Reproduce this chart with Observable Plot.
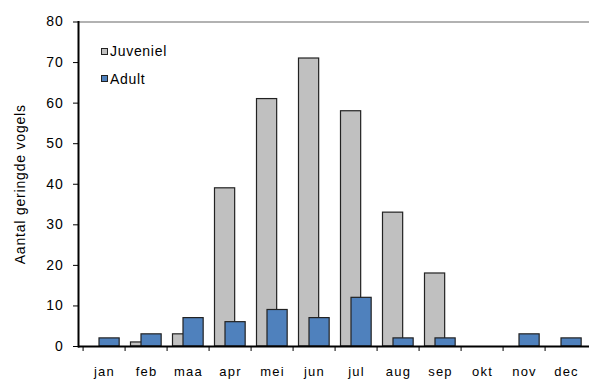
<!DOCTYPE html>
<html>
<head>
<meta charset="utf-8">
<script src="https://cdn.jsdelivr.net/npm/d3@7"></script>
<script src="https://cdn.jsdelivr.net/npm/@observablehq/plot@0.6"></script>
<style>
  html, body { margin: 0; padding: 0; background: white; }
  #wrap { position: relative; width: 589px; height: 379px; font-family: "Liberation Sans", Arial, sans-serif; }
  #wrap svg text { fill: #000; }
  g[aria-label="y-axis tick label"] text { letter-spacing: 0.8px; }
  g[aria-label="x-axis tick label"] text { letter-spacing: 1.2px; }
  g[aria-label="y-axis label"] text { letter-spacing: 0.8px; }
  .leg { position: absolute; left: 101px; display: flex; align-items: center; font-size: 14px; line-height: 16px; letter-spacing: 0.7px; color: #000; }
  .sw { width: 5px; height: 5px; border: 1px solid #222; margin-right: 2px; }
</style>
</head>
<body>
<div id="wrap"></div>
<script>
const months = ["jan","feb","maa","apr","mei","jun","jul","aug","sep","okt","nov","dec"];
const juveniel = [0, 1, 3, 39, 61, 71, 58, 33, 18, 0, 0, 0];
const adult = [2, 3, 7, 6, 9, 7, 12, 2, 2, 0, 3, 2];
const seriesNames = ["Juveniel", "Adult"];
const seriesColors = ["#c0c0c0", "#4f81bd"];
const yTicks = [0, 10, 20, 30, 40, 50, 60, 70, 80];
const yLabel = "Aantal geringde vogels";

const juvData = months.map((m, i) => ({month: m, value: juveniel[i]}));
const adultData = months.map((m, i) => ({month: m, value: adult[i]}));

const xRange = [78, 592];
const bw = (xRange[1] - xRange[0]) / months.length;

const chart = Plot.plot({
  width: 589,
  height: 379,
  marginLeft: 78,
  marginRight: 0,
  marginTop: 21.5,
  marginBottom: 33,
  style: {fontFamily: "'Liberation Sans', Arial, sans-serif", fontSize: "13px", background: "white", overflow: "visible"},
  x: {type: "band", domain: months, range: xRange, padding: 0},
  y: {domain: [0, 80], ticks: yTicks},
  marks: [
    Plot.ruleY([80], {stroke: "#999", strokeWidth: 1.5}),
    Plot.barY(juvData, {x: "month", y: "value", filter: d => d.value > 0, fill: seriesColors[0], stroke: "#222", strokeWidth: 1.2, insetLeft: 5.5, insetRight: bw - 26.5}),
    Plot.barY(adultData, {x: "month", y: "value", filter: d => d.value > 0, fill: seriesColors[1], stroke: "#222", strokeWidth: 1.2, insetLeft: 16, insetRight: bw - 37}),
    Plot.ruleX(months, {x: d => d, dx: -bw / 2, y1: 0, y2: 0, insetBottom: -5, stroke: "#000", strokeWidth: 1}),
    Plot.ruleY([0], {stroke: "#000", strokeWidth: 2}),
    Plot.frame({anchor: "left", stroke: "#000", strokeWidth: 2}),
    Plot.axisY({ticks: yTicks, tickSize: 5, tickPadding: 10, fontSize: 14, label: yLabel, labelArrow: "none", labelAnchor: "center", labelOffset: 63, stroke: "#000"}),
    Plot.axisX({tickSize: 0, tickPadding: 20, fontSize: 13, label: null})
  ]
});

const wrap = document.getElementById("wrap");
wrap.appendChild(chart);
seriesNames.forEach((name, i) => {
  const row = document.createElement("div");
  row.className = "leg";
  row.style.top = (43 + i * 27.5) + "px";
  const sw = document.createElement("div");
  sw.className = "sw";
  sw.style.background = seriesColors[i];
  row.appendChild(sw);
  const t = document.createElement("span");
  t.textContent = name;
  row.appendChild(t);
  wrap.appendChild(row);
});
</script>
</body>
</html>
